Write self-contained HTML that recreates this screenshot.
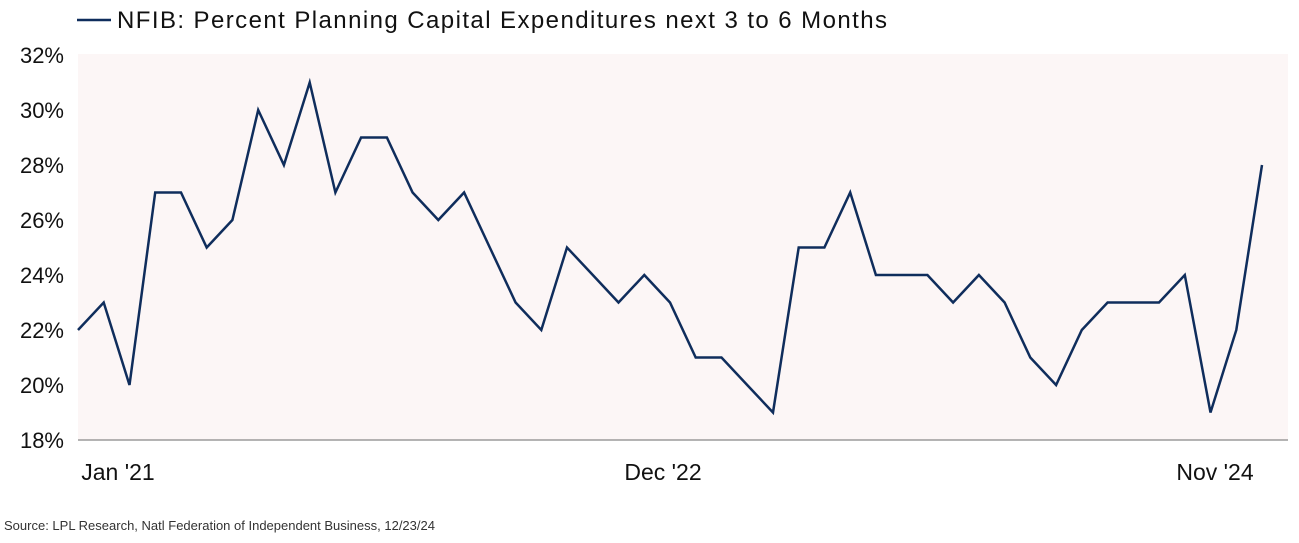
<!DOCTYPE html>
<html><head><meta charset="utf-8"><style>
body{margin:0;background:#fff;width:1299px;height:538px;overflow:hidden;font-family:"Liberation Sans",sans-serif;}
</style></head><body>
<svg width="1299" height="538" xmlns="http://www.w3.org/2000/svg">
<rect x="78" y="54" width="1210" height="386" fill="#fcf6f6"/>
<line x1="78" y1="440" x2="1288" y2="440" stroke="#888" stroke-width="1.2"/>
<line x1="77" y1="20" x2="111" y2="20" stroke="#0f2d5c" stroke-width="2.5"/>
<text x="117" y="28" font-size="24" fill="#111" textLength="770" lengthAdjust="spacing">NFIB: Percent Planning Capital Expenditures next 3 to 6 Months</text>
<g font-size="22" fill="#111" text-anchor="end">
<text x="64" y="63">32%</text><text x="64" y="118">30%</text><text x="64" y="173">28%</text>
<text x="64" y="228">26%</text><text x="64" y="283">24%</text><text x="64" y="338">22%</text>
<text x="64" y="393">20%</text><text x="64" y="448">18%</text>
</g>
<g font-size="23" fill="#111" text-anchor="middle">
<text x="118" y="480">Jan '21</text><text x="663" y="480">Dec '22</text><text x="1215" y="480">Nov '24</text>
</g>
<text x="4" y="530" font-size="13" fill="#333">Source: LPL Research, Natl Federation of Independent Business, 12/23/24</text>
<polyline id="p" fill="none" stroke="#0f2d5c" stroke-width="2.5" stroke-linejoin="miter" points=""/>
<script>
var v=[22,23,20,27,27,25,26,30,28,31,27,29,29,27,26,27,25,23,22,25,24,23,24,23,21,21,20,19,25,25,27,24,24,24,23,24,23,21,20,22,23,23,23,24,19,22,28];
var s=v.map(function(d,i){return (78+i*(1184/46)).toFixed(1)+","+(440-(d-18)*27.5).toFixed(1)}).join(" ");
document.getElementById("p").setAttribute("points",s);
</script>
</svg>
</body></html>
